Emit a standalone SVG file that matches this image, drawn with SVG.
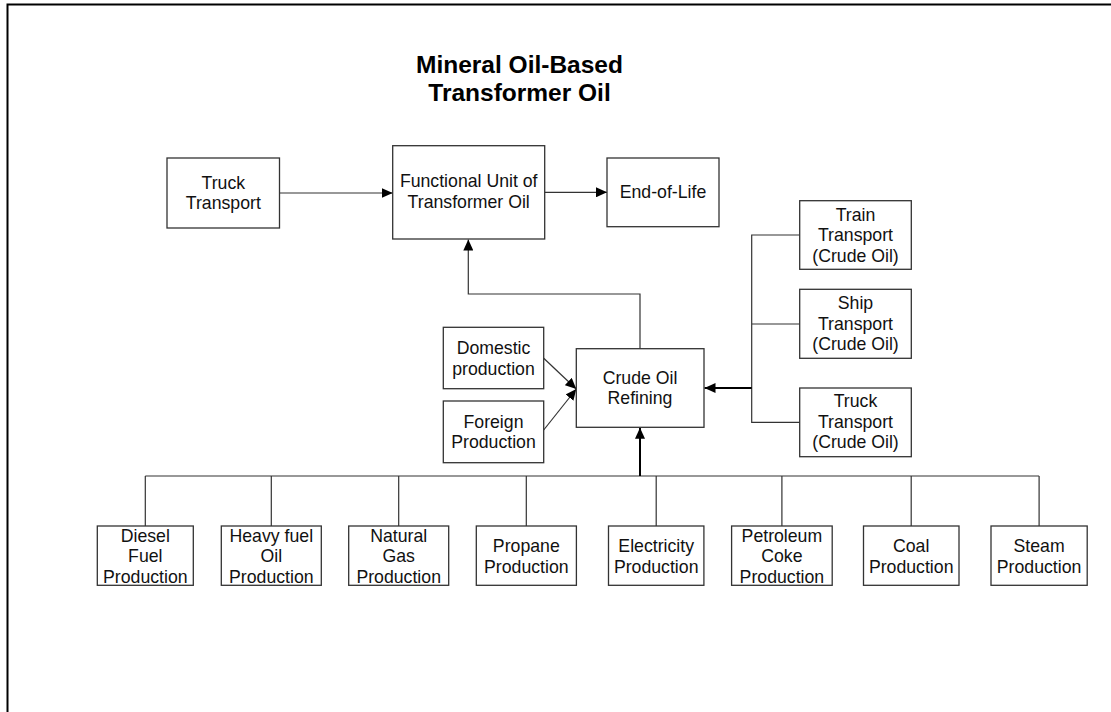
<svg xmlns="http://www.w3.org/2000/svg" width="1111" height="712" viewBox="0 0 1111 712">
<style>
  .box { fill: #ffffff; stroke: #333333; stroke-width: 1.3; }
  .t { font-family: "Liberation Sans", Arial, sans-serif; font-size: 17.7px; fill: #111111; text-anchor: middle; }
  .title { font-family: "Liberation Sans", Arial, sans-serif; font-size: 24.5px; font-weight: bold; fill: #000000; text-anchor: middle; }
  .ln { fill: none; stroke: #333333; stroke-width: 1.2; }
  .thick { fill: none; stroke: #000000; stroke-width: 2; }
</style>
<defs>
  <marker id="ah" markerUnits="userSpaceOnUse" markerWidth="12" markerHeight="10" refX="11" refY="5" orient="auto">
    <path d="M0,0 L11,5 L0,10 Z" fill="#000000"/>
  </marker>
</defs>
<rect x="0" y="0" width="1111" height="712" fill="#ffffff"/>
<rect x="7.5" y="4.5" width="1120" height="720" fill="none" stroke="#000000" stroke-width="2"/>
<g id="title">
  <text class="title" x="519.5" y="73">Mineral Oil-Based</text>
  <text class="title" x="519.5" y="101">Transformer Oil</text>
</g>
<g id="connectors">
  <line class="ln" x1="279.5" y1="193" x2="392.7" y2="193" marker-end="url(#ah)"/>
  <line class="ln" x1="544.7" y1="192.3" x2="607" y2="192.3" marker-end="url(#ah)"/>
  <path class="ln" d="M640,348.7 V294 H468.3 V239.5" marker-end="url(#ah)"/>
  <line class="ln" x1="543.7" y1="358.3" x2="576.3" y2="389" marker-end="url(#ah)"/>
  <line class="ln" x1="543.7" y1="430" x2="576.3" y2="389" marker-end="url(#ah)"/>
  <path class="ln" d="M799.7,235 H751.7 V422.3 H799.7 M751.7,324 H799.7"/>
  <line class="thick" x1="751.7" y1="388" x2="704.5" y2="388" marker-end="url(#ah)"/>
  <path class="ln" d="M145.3,476 H1039.1 M145.3,476 V526 M271.3,476 V526 M398.7,476 V526 M526.3,476 V526 M656.2,476 V526 M781.9,476 V526 M911.2,476 V526 M1039.1,476 V526"/>
  <line class="thick" x1="640" y1="476" x2="640" y2="427.8" marker-end="url(#ah)"/>
</g>
<g id="truck-transport">
  <rect class="box" x="167" y="158" width="112.5" height="70"/>
  <text class="t" x="223.3" y="188.7">Truck</text>
  <text class="t" x="223.3" y="209">Transport</text>
</g>
<g id="functional-unit">
  <rect class="box" x="392.7" y="145.7" width="152" height="93.3"/>
  <text class="t" x="468.7" y="187">Functional Unit of</text>
  <text class="t" x="468.7" y="208">Transformer Oil</text>
</g>
<g id="end-of-life">
  <rect class="box" x="607" y="158" width="112" height="68.7"/>
  <text class="t" x="663" y="198.4">End-of-Life</text>
</g>
<g id="train-transport">
  <rect class="box" x="799.7" y="200.7" width="111.6" height="68.6"/>
  <text class="t" x="855.5" y="220.7">Train</text>
  <text class="t" x="855.5" y="241.2">Transport</text>
  <text class="t" x="855.5" y="261.7">(Crude Oil)</text>
</g>
<g id="ship-transport">
  <rect class="box" x="799.7" y="289.3" width="111.6" height="69"/>
  <text class="t" x="855.5" y="309">Ship</text>
  <text class="t" x="855.5" y="329.5">Transport</text>
  <text class="t" x="855.5" y="350">(Crude Oil)</text>
</g>
<g id="truck-transport-crude">
  <rect class="box" x="799.7" y="388" width="111.6" height="68.7"/>
  <text class="t" x="855.5" y="407.4">Truck</text>
  <text class="t" x="855.5" y="427.9">Transport</text>
  <text class="t" x="855.5" y="448.4">(Crude Oil)</text>
</g>
<g id="domestic-production">
  <rect class="box" x="443.3" y="327.3" width="100.4" height="61.4"/>
  <text class="t" x="493.5" y="354">Domestic</text>
  <text class="t" x="493.5" y="374.6">production</text>
</g>
<g id="foreign-production">
  <rect class="box" x="443.3" y="401" width="100.4" height="61.7"/>
  <text class="t" x="493.5" y="428">Foreign</text>
  <text class="t" x="493.5" y="448.3">Production</text>
</g>
<g id="crude-oil-refining">
  <rect class="box" x="576.3" y="348.7" width="127.7" height="78.6"/>
  <text class="t" x="640" y="383.7">Crude Oil</text>
  <text class="t" x="640" y="404">Refining</text>
</g>
<g id="diesel">
  <rect class="box" x="97.3" y="526" width="96" height="59.3"/>
  <text class="t" x="145.3" y="542">Diesel</text>
  <text class="t" x="145.3" y="562.3">Fuel</text>
  <text class="t" x="145.3" y="582.5">Production</text>
</g>
<g id="heavy-fuel-oil">
  <rect class="box" x="221.3" y="526" width="100" height="59.3"/>
  <text class="t" x="271.3" y="542">Heavy fuel</text>
  <text class="t" x="271.3" y="562.3">Oil</text>
  <text class="t" x="271.3" y="582.5">Production</text>
</g>
<g id="natural-gas">
  <rect class="box" x="348.7" y="526" width="100" height="59.3"/>
  <text class="t" x="398.7" y="542">Natural</text>
  <text class="t" x="398.7" y="562.3">Gas</text>
  <text class="t" x="398.7" y="582.5">Production</text>
</g>
<g id="propane">
  <rect class="box" x="476.3" y="526" width="100.1" height="59.3"/>
  <text class="t" x="526.3" y="552.4">Propane</text>
  <text class="t" x="526.3" y="572.5">Production</text>
</g>
<g id="electricity">
  <rect class="box" x="608.5" y="526" width="95.4" height="59.3"/>
  <text class="t" x="656.2" y="552.4">Electricity</text>
  <text class="t" x="656.2" y="572.5">Production</text>
</g>
<g id="petroleum-coke">
  <rect class="box" x="731.6" y="526" width="100.6" height="59.3"/>
  <text class="t" x="781.9" y="542">Petroleum</text>
  <text class="t" x="781.9" y="562.3">Coke</text>
  <text class="t" x="781.9" y="582.5">Production</text>
</g>
<g id="coal">
  <rect class="box" x="863.5" y="526" width="95.5" height="59.3"/>
  <text class="t" x="911.2" y="552.4">Coal</text>
  <text class="t" x="911.2" y="572.5">Production</text>
</g>
<g id="steam">
  <rect class="box" x="991" y="526" width="96.2" height="59.3"/>
  <text class="t" x="1039.1" y="552.4">Steam</text>
  <text class="t" x="1039.1" y="572.5">Production</text>
</g>
</svg>
